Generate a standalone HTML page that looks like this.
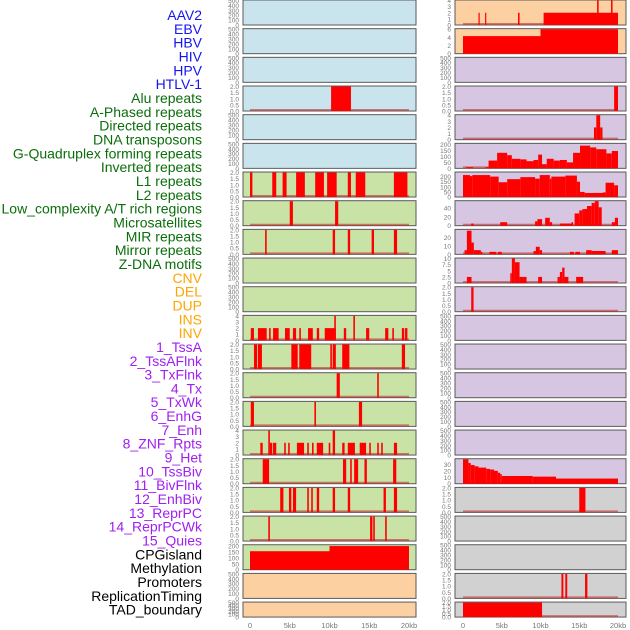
<!DOCTYPE html>
<html><head><meta charset="utf-8"><style>
html,body{margin:0;padding:0;background:#fff;width:630px;height:630px;overflow:hidden}
svg{display:block}
text{font-family:"Liberation Sans",sans-serif}
</style></head><body>
<svg id="chart" width="630" height="630" viewBox="0 0 630 630"></svg>
<script>
// ---- data ----
const trackLabels = ["AAV2","EBV","HBV","HIV","HPV","HTLV-1","Alu repeats","A-Phased repeats","Directed repeats","DNA transposons","G-Quadruplex forming repeats","Inverted repeats","L1 repeats","L2 repeats","Low_complexity A/T rich regions","Microsatellites","MIR repeats","Mirror repeats","Z-DNA motifs","CNV","DEL","DUP","INS","INV","1_TssA","2_TssAFlnk","3_TxFlnk","4_Tx","5_TxWk","6_EnhG","7_Enh","8_ZNF_Rpts","9_Het","10_TssBiv","11_BivFlnk","12_EnhBiv","13_ReprPC","14_ReprPCWk","15_Quies","CPGisland","Methylation","Promoters","ReplicationTiming","TAD_boundary"];
const labelGroups = ["v","v","v","v","v","v","r","r","r","r","r","r","r","r","r","r","r","r","r","c","c","c","c","c","s","s","s","s","s","s","s","s","s","s","s","s","s","s","s","k","k","k","k","k"];
const xTickValues = [0,5,10,15,20];
const xTickLabels = ["0","5kb","10kb","15kb","20kb"];

// bars: [startKb, endKb, value]
const L4 = [[10.2,12.7,2]];
const L7 = [[0,0.3,2],[2.8,3.3,2],[4.1,4.6,2],[5.8,6.9,2],[8.2,9.3,2],[9.7,10.9,2],[12.3,12.7,2],[13.3,14.5,2],[18.1,19.8,2]];
const L8 = [[5.0,5.4,2],[10.7,11.1,2]];
const L9 = [[1.9,2.1,2],[10.4,10.7,2],[12.3,12.6,2],[15.3,15.6,2],[18.1,18.5,2]];
const L12 = [[0.1,0.5,2],[1.0,2.1,2],[2.4,2.6,2],[2.9,3.6,2],[4.4,5.0,2],[5.4,5.8,2],[6.2,6.4,2],[7.3,7.9,2],[8.4,8.7,2],[9.4,10.8,2],[10.6,10.8,4],[11.8,12.1,2],[13.0,13.2,4],[14.6,15.0,2],[17.0,17.4,2],[17.9,18.1,2],[19.1,19.4,2],[19.5,19.8,2]];
const L13 = [[0.5,0.9,2],[1.0,1.5,2],[5.2,6.0,2],[6.2,7.7,2],[10.1,10.3,2],[10.4,10.8,2],[11.6,12.5,2],[19.1,19.5,2]];
const L14 = [[10.9,11.3,2],[16.0,16.2,2]];
const L15 = [[0.1,0.5,2],[8.1,8.3,2],[13.7,14.1,2]];
const L16 = [[1.3,1.6,2],[2.3,2.5,4],[2.5,2.8,2],[2.9,3.3,2],[4.3,4.5,2],[4.8,5.0,2],[5.9,6.8,2],[7.2,7.4,2],[7.8,8.0,2],[8.4,9.2,2],[9.9,10.1,2],[10.4,10.7,4],[11.6,11.9,2],[12.3,13.2,2],[13.8,14.6,2],[15.0,15.2,2],[16.0,16.2,2],[16.5,16.7,2],[18.1,18.5,2]];
const L17 = [[1.6,2.4,2],[11.7,12.1,2],[12.6,12.8,2],[13.1,13.6,2],[14.4,14.7,2],[18.0,18.4,2]];
const L18 = [[3.8,4.2,2],[4.9,5.2,2],[5.4,5.8,2],[7.2,7.4,2],[7.7,7.9,2],[8.4,8.7,2],[10.4,10.7,2],[12.3,12.6,2],[16.8,17.1,2],[18.1,18.5,2]];
const L19 = [[2.3,2.5,2],[15.1,15.4,2],[15.5,15.7,2],[17.0,17.2,2]];
const L20 = [[0,10.0,155],[10.0,20,198]];

const R1 = [[10.4,20,2],[2.0,2.15,2],[2.85,3.0,2],[7.1,7.3,2],[17.3,17.5,4],[19.1,19.3,4]];
const R2 = [[0,10,4.3],[10,20,6]];
const R4 = [[19.5,20,2]];
const R5 = [[16.9,17.2,2],[17.2,17.7,4],[17.7,18.0,2]];
const R6 = [[0.4,1.3,10],[2.9,3.3,10],[3.3,4.4,65],[4.4,5.7,130],[5.7,6.3,110],[6.3,7.4,80],[7.4,8.2,75],[8.2,9.1,60],[9.1,9.7,70],[9.7,10.2,115],[10.2,10.8,35],[10.8,11.7,80],[11.7,12.5,65],[12.5,13.4,70],[13.4,14.2,50],[14.2,15.1,130],[15.1,16.4,190],[16.4,17.2,175],[17.2,18.5,160],[18.5,19.2,125],[19.2,20,145]];
const R7 = [[0,0.9,215],[0.9,1.2,205],[1.2,3.5,215],[3.5,4.6,200],[4.6,5.7,145],[5.7,7.4,175],[7.4,9.3,195],[9.3,9.9,180],[9.9,11.2,215],[11.2,11.4,180],[11.4,13.2,200],[13.2,14.7,210],[14.7,15.1,150],[15.1,15.7,50],[15.7,18.0,40],[18.0,18.4,45],[18.4,19.5,140],[19.5,20,115]];
const R8 = [[1.06,1.36,5],[4.8,5.7,8],[9.3,9.6,10],[9.6,10.2,15],[10.6,11.2,18],[11.2,11.5,8],[12.5,14.0,5],[14.0,14.2,8],[14.4,15.0,28],[15.0,15.4,35],[15.4,16.0,38],[16.0,16.6,45],[16.6,17.0,52],[17.0,17.5,56],[17.5,17.9,42],[19.2,19.6,8],[19.6,20,18]];
const R9 = [[0.2,0.5,5],[0.5,1.1,28],[1.1,1.4,14],[1.4,2.3,5],[2.3,2.5,3],[3.4,4.3,3],[4.5,5.0,3],[9.1,9.4,4],[9.4,9.9,9],[9.9,10.2,5],[13.8,14.3,3],[14.5,15.1,3],[15.9,16.6,5],[16.6,18.4,4],[19.2,20,5]];
const R10 = [[0.5,1.1,2.5],[6.1,6.3,4],[6.3,6.7,10],[6.7,7.3,8.5],[7.3,8.2,2.5],[9.7,10.2,2.5],[12.2,12.5,2.5],[12.5,12.8,4.5],[12.8,13.1,6.3],[13.1,13.6,2.5],[14.6,15.5,2.5]];
const R11 = [[1.06,1.36,2]];
const R17 = [[0,0.7,38],[0.7,1.0,32],[1.0,1.5,29],[1.5,2.0,27],[2.0,3.0,25],[3.0,3.5,23],[3.5,4.0,22],[4.0,4.5,20],[4.5,4.8,17],[4.8,5.0,15],[5.0,9.0,12],[9.0,12.0,11],[12.0,20,8]];
const R18 = [[15.0,15.8,2]];
const R21 = [[12.7,12.95,2],[13.2,13.45,2],[15.75,16.05,2]];
const R22 = [[0,10.2,2]];

const T500 = ["0","100","200","300","400","500"];
const T2 = ["0.0","0.5","1.0","1.5","2.0"];
const T4 = ["0","1","2","3","4"];

// ---- layout/config ----
const BG = {b:"#c9e4ec",g:"#c9e2a5",o:"#fdd0a2",p:"#d6c6e2",y:"#d1d1d1"};
const leftBg  = "bbbbbbggggggggggggggooo";
const rightBg = "oopppppppppppppppyyyyy";
// [bars, ymax, tickValues, tickLabels]
const leftCfg = [
 [null,500],[null,500],[null,500],[L4,2],[null,500],[null,500],
 [L7,2],[L8,2],[L9,2],[null,500],[null,500],[L12,4],[L13,2],[L14,2],[L15,2],[L16,4],[L17,2],[L18,2],[L19,2],
 [L20,205,[0,50,100,150,200]],[null,500],[null,500]
];
const rightCfg = [
 [R1,4],[R2,6,[0,2,4,6]],[null,500],[R4,2],[R5,4],[R6,205,[0,50,100,150,200]],[R7,240,[0,50,100,150,200]],
 [R8,56,[0,20,40]],[R9,29,[0,10,20]],[R10,10,[0,2.5,5,7.5,10]],[R11,2],[null,500],[null,500],[null,500],[null,500],[null,500],
 [R17,38,[0,10,20,30]],[R18,2],[null,500],[null,500],[R21,2],[R22,2]
];
const colors = {v:"#1515f0",r:"#0a6e0a",c:"#ffa500",s:"#a020f0",k:"#000"};

const NS="http://www.w3.org/2000/svg";
const svg=document.getElementById('chart');
function mk(tag,attrs,parent){const e=document.createElementNS(NS,tag);for(const k in attrs)e.setAttribute(k,attrs[k]);(parent||svg).appendChild(e);return e;}

// labels
trackLabels.forEach((t,i)=>{
  const e=mk('text',{x:202,y:(20+i*13.83).toFixed(1),'text-anchor':'end','font-size':'14',fill:colors[labelGroups[i]]});
  e.textContent=t;
  
  
});

const cols=[{x0:243,x1:416,d0:250,d1:409,cfg:leftCfg,bg:leftBg,name:'left'},
            {x0:455,x1:626,d0:463,d1:618,cfg:rightCfg,bg:rightBg,name:'right'}];
function fmt(v){return String(v);}
cols.forEach(col=>{
  const xs=kb=>col.d0+(col.d1-col.d0)*kb/20;
  col.cfg.forEach((c,i)=>{
    const top=i*28.67, h=(i===21)?15:25, bot=top+h;
    const g=mk('g',{});
    
    
    mk('rect',{x:col.x0,y:top,width:col.x1-col.x0,height:h,fill:BG[col.bg[i]],stroke:'#5a5a5a','stroke-width':1},g);
    const ymax=c[1];
    const ys=v=>bot-(h-0.5)*v/ymax;
    let tv,tl;
    if(c[2]){tv=c[2];tl=c[2].map(fmt);}
    else if(ymax===500){tv=[0,100,200,300,400,500];tl=T500;}
    else if(ymax===2){tv=[0,0.5,1,1.5,2];tl=T2;}
    else {tv=[0,1,2,3,4];tl=T4;}
    tv.forEach((v,k)=>{
      const t=mk('text',{x:col.x0-4,y:(ys(v)+2.5).toFixed(1),'text-anchor':'end','font-size':'6.5',fill:'#777'},g);
      t.textContent=tl[k];
      
      
    });
    if(c[0]){
      mk('line',{x1:xs(0),x2:xs(20),y1:bot-1,y2:bot-1,stroke:'#c03030','stroke-opacity':0.6,'stroke-width':2},g);
      c[0].forEach(b=>{
        const r=mk('rect',{x:xs(b[0]).toFixed(2),y:ys(Math.min(b[2],ymax)).toFixed(2),width:Math.max(1.2,xs(b[1])-xs(b[0])).toFixed(2),height:(bot-ys(Math.min(b[2],ymax))).toFixed(2),fill:'#ff0000'},g);
        
        
      });
    }
  });
  xTickValues.forEach((v,k)=>{
    const t=mk('text',{x:xs(v),y:628,'text-anchor':'middle','font-size':'7.5',fill:'#777'});
    t.textContent=xTickLabels[k];
    
    
  });
});
</script>
</body></html>
